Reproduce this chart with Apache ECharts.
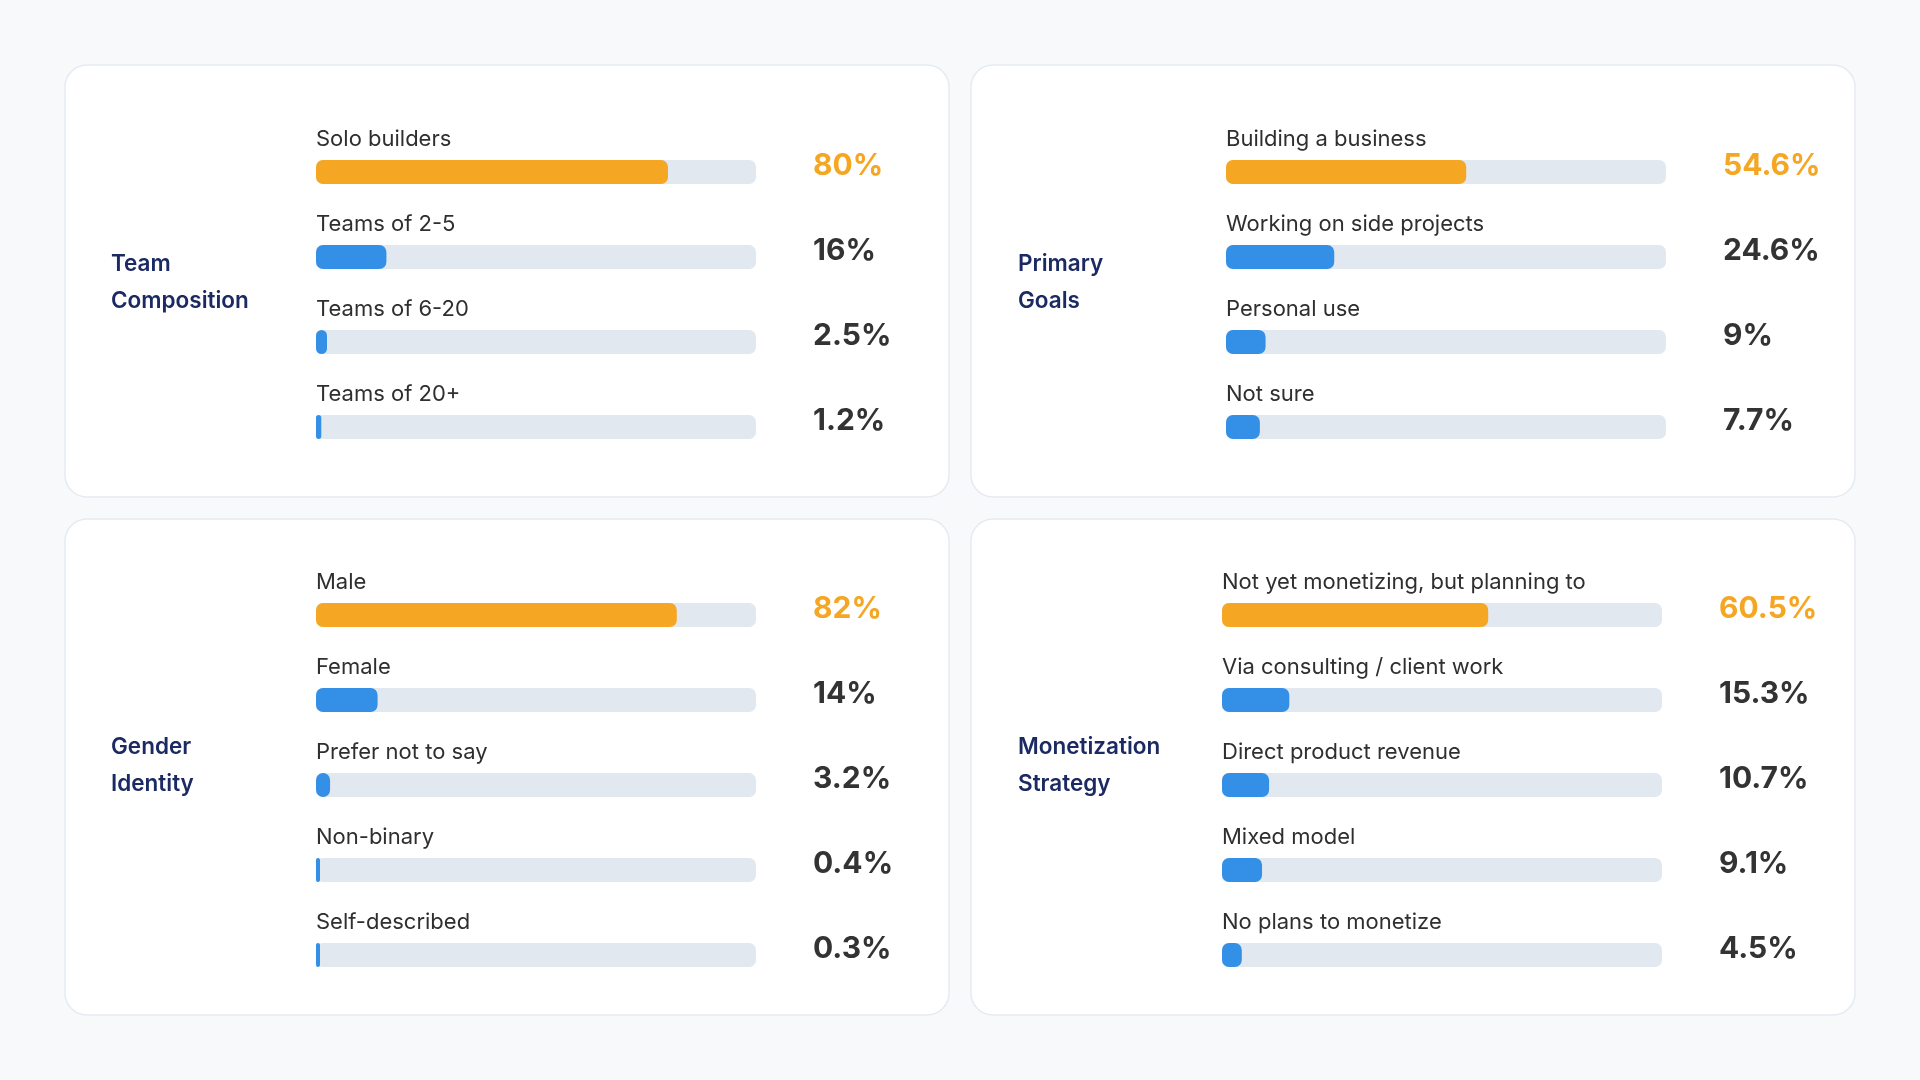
<!DOCTYPE html>
<html>
<head>
<meta charset="utf-8">
<title>Builder survey</title>
<script src="https://cdn.jsdelivr.net/npm/echarts@6/dist/echarts.min.js"></script>
<style>
  html, body { margin: 0; padding: 0; background: #F7F9FB; }
  #chart { width: 1920px; height: 1080px; }
</style>
</head>
<body>
<div id="chart"></div>
<script>
// survey data, one block per card
var teamLabels = ['Solo builders', 'Teams of 2-5', 'Teams of 6-20', 'Teams of 20+'];
var teamValues = [80, 16, 2.5, 1.2];

var goalLabels = ['Building a business', 'Working on side projects', 'Personal use', 'Not sure'];
var goalValues = [54.6, 24.6, 9, 7.7];

var genderLabels = ['Male', 'Female', 'Prefer not to say', 'Non-binary', 'Self-described'];
var genderValues = [82, 14, 3.2, 0.4, 0.3];

var moneyLabels = ['Not yet monetizing, but planning to', 'Via consulting / client work',
  'Direct product revenue', 'Mixed model', 'No plans to monetize'];
var moneyValues = [60.5, 15.3, 10.7, 9.1, 4.5];

var FONT = 'Inter, "Noto Sans", sans-serif';
var ORANGE = '#F5A623';
var BLUE = '#3490E6';

var cards = [
  { title: 'Team\nComposition', labels: teamLabels, values: teamValues,
    box: [65, 65, 884, 432], titleX: 111, titleY: 246, left: 316, top: 129.5 },
  { title: 'Primary\nGoals', labels: goalLabels, values: goalValues,
    box: [971, 65, 884, 432], titleX: 1018, titleY: 246, left: 1226, top: 129.5 },
  { title: 'Gender\nIdentity', labels: genderLabels, values: genderValues,
    box: [65, 519, 884, 496], titleX: 111, titleY: 729, left: 316, top: 572.5 },
  { title: 'Monetization\nStrategy', labels: moneyLabels, values: moneyValues,
    box: [971, 519, 884, 496], titleX: 1018, titleY: 729, left: 1222, top: 572.5 }
];

var ROW = 85;
var chart = echarts.init(document.getElementById('chart'));

var option = {
  backgroundColor: '#F7F9FB',
  animation: false,
  title: [],
  graphic: [],
  grid: [],
  xAxis: [],
  yAxis: [],
  series: []
};

cards.forEach(function (c, i) {
  // white card behind each chart
  option.graphic.push({
    type: 'rect',
    z: -10,
    shape: { x: c.box[0], y: c.box[1], width: c.box[2], height: c.box[3], r: 22 },
    style: { fill: '#FFFFFF', stroke: '#E6EBF1', lineWidth: 1.5 }
  });

  option.title.push({
    text: c.title,
    left: c.titleX,
    top: c.titleY,
    padding: 0,
    textStyle: { fontFamily: FONT, fontSize: 22.5, fontWeight: 600, color: '#1B2A63', lineHeight: 37 }
  });

  option.grid.push({ left: c.left, top: c.top, width: 440, height: ROW * c.labels.length });
  option.xAxis.push({ gridIndex: i, type: 'value', min: 0, max: 100, show: false });

  var vals = c.values;
  option.yAxis.push({
    gridIndex: i, type: 'category', inverse: true, data: c.labels, show: false
  });
  // right axis carries the percentage text
  option.yAxis.push({
    gridIndex: i, type: 'category', inverse: true, position: 'right', data: c.labels,
    axisLine: { show: false }, axisTick: { show: false }, splitLine: { show: false },
    axisLabel: {
      margin: 57,
      align: 'left',
      verticalAlign: 'bottom',
      lineHeight: 13,
      fontFamily: FONT,
      fontSize: 30,
      fontWeight: 'bold',
      color: function (v, idx) { return idx === 0 ? ORANGE : '#333333'; },
      formatter: function (v, idx) { return vals[idx] + '%'; }
    }
  });

  option.series.push({
    type: 'bar',
    xAxisIndex: i,
    yAxisIndex: i * 2,
    data: c.values.map(function (v, k) {
      return { value: v, itemStyle: { color: k === 0 ? ORANGE : BLUE } };
    }),
    barWidth: 24,
    barMinHeight: 4,
    itemStyle: { borderRadius: 7 },
    showBackground: true,
    backgroundStyle: { color: '#E2E8F0', borderRadius: 7 },
    label: {
      show: true,
      position: [0, -21],
      verticalAlign: 'middle',
      align: 'left',
      fontFamily: FONT,
      fontSize: 22,
      color: '#2F2F2F',
      formatter: function (p) { return p.name; }
    }
  });
});

chart.setOption(option);
</script>
</body>
</html>
